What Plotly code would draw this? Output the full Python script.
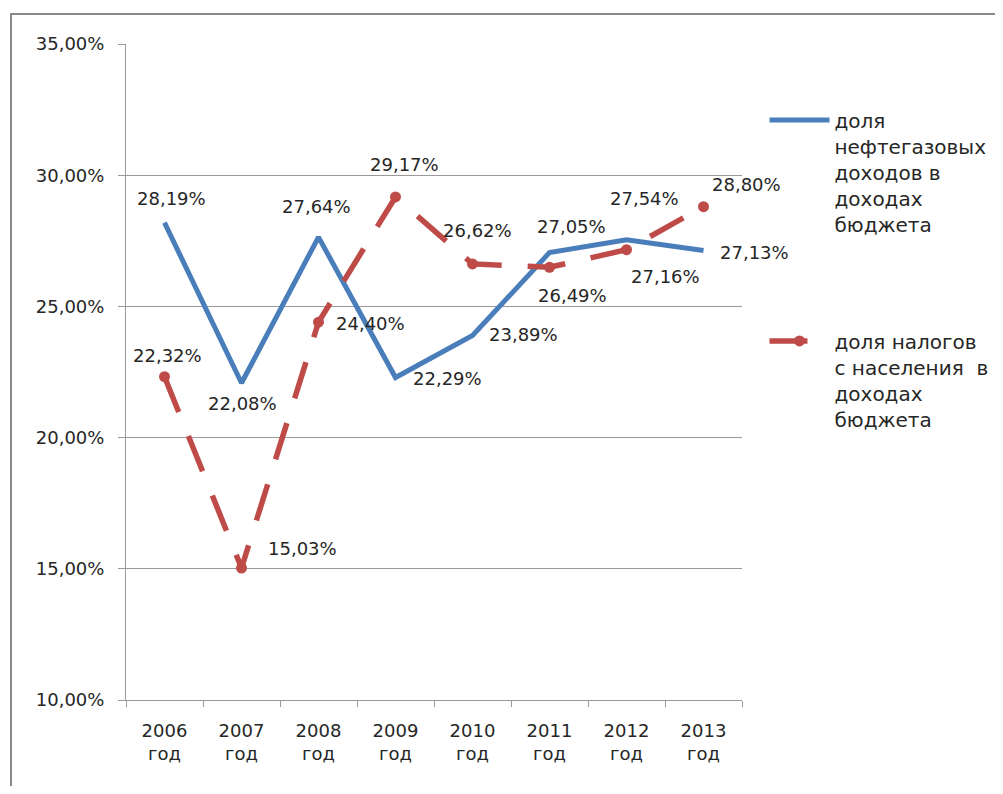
import plotly.graph_objects as go

# ---- data ----
years = ["2006", "2007", "2008", "2009", "2010", "2011", "2012", "2013"]
year_suffix = "год"
oil_gas_share = [28.19, 22.08, 27.64, 22.29, 23.89, 27.05, 27.54, 27.13]
population_tax_share = [22.32, 15.03, 24.40, 29.17, 26.62, 26.49, 27.16, 28.80]
y_tick_values = [10, 15, 20, 25, 30, 35]
y_tick_labels = ["10,00%", "15,00%", "20,00%", "25,00%", "30,00%", "35,00%"]
name_oil_gas = "доля<br>нефтегазовых<br>доходов в<br>доходах<br>бюджета"
name_tax = "доля налогов<br>с населения  в<br>доходах<br>бюджета"

# label pixel offsets (dx, dy up) relative to each point
oil_label_offsets = [(7, 24), (1, -20), (-2, 31), (52, -1), (51, 1), (22, 26), (18, 41), (51, -2)]
tax_label_offsets = [(3, 21), (61, 20), (52, -1), (9, 32), (5, 33), (23, -28), (39, -27), (43, 22)]

categories = [f"{y}<br>{year_suffix}" for y in years]

BLUE = "#4A7EBB"
RED = "#BE4B48"
TXT = "#262626"
FONT = "DejaVu Sans"

# page has an 8px body margin; figure sized to fit the window without scrolling
W, H = 987, 778
L, R, T, B = 118, 253, 36, 86
PW, PH = W - L - R, H - T - B

fig = go.Figure()
fig.add_trace(go.Scatter(
    x=categories, y=oil_gas_share, mode="lines", name=name_oil_gas,
    line=dict(color=BLUE, width=5), legendgroup="a",
))
fig.add_trace(go.Scatter(
    x=categories, y=population_tax_share, mode="lines+markers", name=name_tax,
    line=dict(color=RED, width=5.5, dash="38px,26px"),
    marker=dict(color=RED, size=11), legendgroup="b",
))


def fmt(v):
    return f"{v:.2f}".replace(".", ",") + "%"


for series, offs in ((oil_gas_share, oil_label_offsets), (population_tax_share, tax_label_offsets)):
    for c, v, (dx, dy) in zip(categories, series, offs):
        fig.add_annotation(x=c, y=v, xref="x", yref="y", text=fmt(v), showarrow=False,
                           xshift=dx, yshift=dy, font=dict(family=FONT, size=18, color=TXT))

# outer border of chart area
fig.add_shape(type="rect", xref="paper", yref="paper",
              x0=(3 - L) / PW, x1=(W + 10 - L) / PW,
              y0=-(B + 10) / PH, y1=1 + (T - 6) / PH,
              line=dict(color="#8A8A8A", width=2), fillcolor="rgba(0,0,0,0)", layer="below")

fig.update_layout(
    width=W, height=H,
    margin=dict(l=L, r=R, t=T, b=B, autoexpand=False),
    plot_bgcolor="white", paper_bgcolor="white",
    font=dict(family=FONT, size=18, color=TXT),
    showlegend=True,
    legend=dict(x=1.0365, y=0.914, xanchor="left", yanchor="top",
                font=dict(family=FONT, size=20, color=TXT),
                valign="top", tracegroupgap=88, traceorder="grouped",
                itemwidth=60, bgcolor="rgba(0,0,0,0)"),
)
fig.update_xaxes(
    type="category", range=[-0.5, 7.5], showgrid=False,
    showline=True, linecolor="#9A9A9A", linewidth=1,
    ticks="outside", tickson="boundaries", ticklen=6, tickcolor="#9A9A9A",
    ticklabelstandoff=14, tickfont=dict(family=FONT, size=18, color=TXT),
)
fig.update_yaxes(
    range=[10, 35], tickvals=y_tick_values, ticktext=y_tick_labels,
    showgrid=True, gridcolor="#9A9A9A", gridwidth=1, zeroline=False,
    showline=True, linecolor="#9A9A9A", linewidth=1,
    ticks="outside", ticklen=7, tickcolor="#9A9A9A",
    ticklabelstandoff=10, tickfont=dict(family=FONT, size=18, color=TXT),
)

fig.write_html("out.html", config={"displayModeBar": False})
